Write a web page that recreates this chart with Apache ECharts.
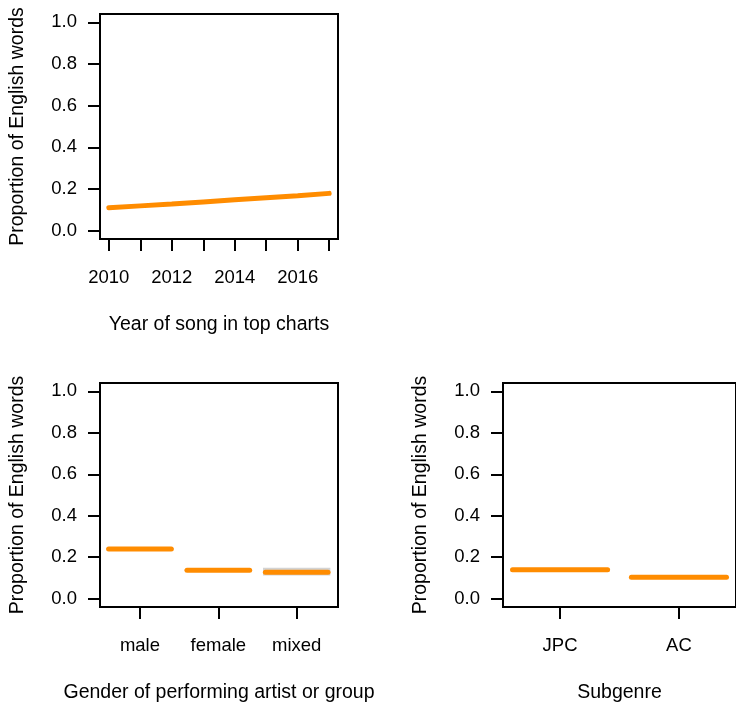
<!DOCTYPE html>
<html>
<head>
<meta charset="utf-8">
<script src="https://cdn.jsdelivr.net/npm/echarts@6/dist/echarts.min.js"></script>
<style>
html,body{margin:0;padding:0;background:#fff;}
#c{width:736px;height:704px;}
</style>
</head>
<body>
<div id="c"></div>
<script>
// ---- data ----
const years = [2010, 2011, 2012, 2013, 2014, 2015, 2016, 2017];
const yearProp = [0.110, 0.119, 0.128, 0.138, 0.148, 0.158, 0.168, 0.179];
const yearTickLabels = [2010, 2012, 2014, 2016];

const genderCats = ['male', 'female', 'mixed'];
const genderProp = [0.240, 0.137, 0.128];
const genderLo = [0.236, 0.133, 0.112];
const genderHi = [0.244, 0.141, 0.149];

const subgenreCats = ['JPC', 'AC'];
const subgenreProp = [0.139, 0.104];

const yTicks = [0, 0.2, 0.4, 0.6, 0.8, 1.0];

const yTitle = 'Proportion of English words';
const xTitles = ['Year of song in top charts', 'Gender of performing artist or group', 'Subgenre'];

// ---- styling ----
const FONT = '"Liberation Sans", Arial, Helvetica, sans-serif';
const ORANGE = '#FF8C00';
const GRAY = '#D3D3D3';
const HALF = 0.4;

function yAxisFor(gi) {
  return {
    type: 'value', gridIndex: gi, min: -0.04, max: 1.04,
    splitLine: {show: false},
    axisLine: {show: true, lineStyle: {color: '#000', width: 2}},
    axisTick: {show: true, length: 12, lineStyle: {color: '#000', width: 2}, customValues: yTicks},
    axisLabel: {show: true, margin: 23, color: '#000', fontSize: 18.5, fontFamily: FONT,
      customValues: yTicks, formatter: v => v.toFixed(1)},
    name: yTitle, nameLocation: 'middle', nameGap: 72,
    nameTextStyle: {color: '#000', fontSize: 19.5, fontFamily: FONT}
  };
}

function xAxisFor(gi, min, max, tickVals, labelVals, fmt, title) {
  return {
    type: 'value', gridIndex: gi, min: min, max: max,
    splitLine: {show: false},
    axisLine: {show: true, onZero: false, lineStyle: {color: '#000', width: 2}},
    axisTick: {show: true, length: 12, lineStyle: {color: '#000', width: 2}, customValues: tickVals},
    axisLabel: {show: true, margin: 29, color: '#000', fontSize: 18.5, fontFamily: FONT,
      customValues: labelVals, formatter: fmt},
    name: title, nameLocation: 'middle', nameGap: 76,
    nameTextStyle: {color: '#000', fontSize: 19.5, fontFamily: FONT}
  };
}

function segSeries(xi, yi, cats, vals) {
  return {
    type: 'custom', xAxisIndex: xi, yAxisIndex: yi, clip: true,
    data: cats.map((c, i) => [i + 1, vals[i]]),
    renderItem: (params, api) => {
      const x = api.value(0), y = api.value(1);
      const p1 = api.coord([x - HALF, y]);
      const p2 = api.coord([x + HALF, y]);
      return {type: 'line', shape: {x1: p1[0], y1: p1[1], x2: p2[0], y2: p2[1]},
        style: {stroke: ORANGE, lineWidth: 5, lineCap: 'round'}};
    }
  };
}

function bandSeries(xi, yi, cats, lo, hi) {
  return {
    type: 'custom', xAxisIndex: xi, yAxisIndex: yi, clip: true,
    data: cats.map((c, i) => [i + 1, lo[i], hi[i]]),
    renderItem: (params, api) => {
      const x = api.value(0);
      const a = api.coord([x - HALF - 0.03, api.value(2)]);
      const b = api.coord([x + HALF + 0.03, api.value(1)]);
      return {type: 'rect', shape: {x: a[0], y: a[1], width: b[0] - a[0], height: b[1] - a[1]},
        style: {fill: GRAY}};
    }
  };
}

const chart = echarts.init(document.getElementById('c'), null, {renderer: 'canvas'});
const gridBase = {show: true, borderColor: '#000', borderWidth: 2, backgroundColor: 'transparent', containLabel: false};
chart.setOption({
  animation: false,
  textStyle: {fontFamily: FONT},
  grid: [
    Object.assign({left: 100, top: 14, width: 238, height: 225}, gridBase),
    Object.assign({left: 100, top: 383, width: 238, height: 225}, gridBase),
    Object.assign({left: 503, top: 383, width: 240, height: 225}, gridBase)
  ],
  xAxis: [
    xAxisFor(0, 2009.72, 2017.28, years, yearTickLabels, v => String(Math.round(v)), xTitles[0]),
    xAxisFor(1, 0.49, 3.527, genderCats.map((c, i) => i + 1), genderCats.map((c, i) => i + 1),
      v => genderCats[Math.round(v) - 1] || '', xTitles[1]),
    xAxisFor(2, 0.52, 2.48, subgenreCats.map((c, i) => i + 1), subgenreCats.map((c, i) => i + 1),
      v => subgenreCats[Math.round(v) - 1] || '', xTitles[2])
  ],
  yAxis: [yAxisFor(0), yAxisFor(1), yAxisFor(2)],
  series: [
    {type: 'line', xAxisIndex: 0, yAxisIndex: 0, showSymbol: false, smooth: false,
      data: years.map((y, i) => [y, yearProp[i]]),
      lineStyle: {color: ORANGE, width: 5, cap: 'round'}, itemStyle: {color: ORANGE}},
    bandSeries(1, 1, genderCats, genderLo, genderHi),
    segSeries(1, 1, genderCats, genderProp),
    segSeries(2, 2, subgenreCats, subgenreProp)
  ]
});
</script>
</body>
</html>
